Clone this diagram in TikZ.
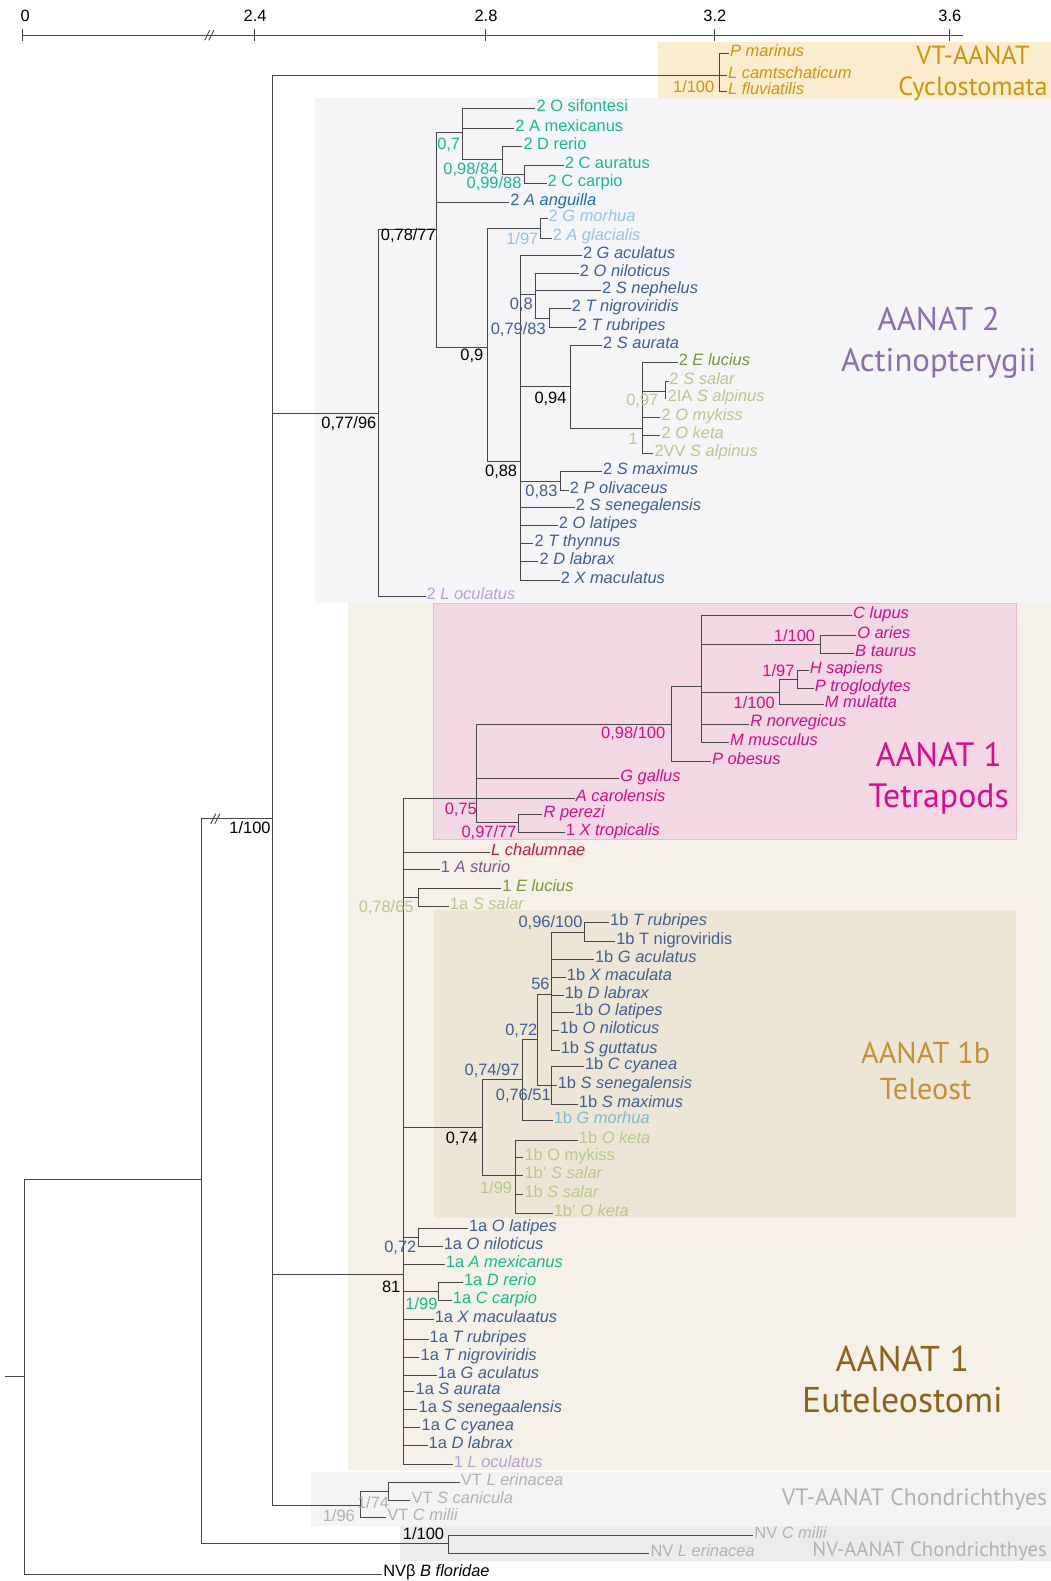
\documentclass[tikz,border=0pt]{standalone}
\usepackage{fontspec}
\setmainfont{Liberation Sans}
\newfontfamily\grpfamily{PT Sans}
\newcommand\taxfont{\fontsize{16.3}{18}\selectfont}

\tikzset{
  br/.style={draw=branch, line width=0.9pt},
  leaf/.style={anchor=west, inner sep=1pt, text height=6pt, text depth=0pt, font=\taxfont},
  supp/.style={inner sep=0pt, font=\taxfont},
  grp/.style={align=center, inner sep=0pt},
  ticklbl/.style={inner sep=0pt, font=\taxfont}
}

\begin{document}
\begin{tikzpicture}[x=1pt, y=-1pt]
    % Define colors
    \definecolor{branch}{RGB}{70,70,70}
    \definecolor{cycbg}{RGB}{250,236,205}
    \definecolor{actbg}{RGB}{245,245,248}
    \definecolor{eutbg}{RGB}{245,240,232}
    \definecolor{tetbg}{RGB}{242,216,226}
    \definecolor{tetline}{RGB}{236,185,212}
    \definecolor{telbg}{RGB}{237,230,214}
    \definecolor{vtbg}{RGB}{243,243,243}
    \definecolor{nvbg}{RGB}{236,236,236}
    \definecolor{cycgold}{RGB}{205,150,10}
    \definecolor{teal}{RGB}{20,190,140}
    \definecolor{eelblue}{RGB}{30,110,190}
    \definecolor{ltblue}{RGB}{150,195,225}
    \definecolor{slate}{RGB}{65,95,145}
    \definecolor{olive}{RGB}{120,150,55}
    \definecolor{ltolive}{RGB}{185,200,140}
    \definecolor{lilac}{RGB}{185,160,210}
    \definecolor{magenta}{RGB}{222,10,140}
    \definecolor{crimson}{RGB}{215,20,60}
    \definecolor{sturio}{RGB}{125,85,150}
    \definecolor{ltteal}{RGB}{130,185,205}
    \definecolor{chgray}{RGB}{178,178,178}
    \definecolor{actpurple}{RGB}{140,110,175}
    \definecolor{telgold}{RGB}{195,145,55}
    \definecolor{eutbrown}{RGB}{140,100,25}

    \useasboundingbox (0,0) rectangle (1042,1568);

    % Group panels
    \fill[cycbg] (653,42) rectangle (1042,97);
    \fill[actbg] (312,97) rectangle (1042,598);
    \fill[eutbg] (345,598) rectangle (1042,1458);
    \filldraw[fill=tetbg, draw=tetline] (430,598) rectangle (1008,832);
    \fill[telbg] (430,903) rectangle (1008,1208);
    \fill[vtbg] (308,1460) rectangle (1042,1513);
    \fill[nvbg] (397,1513) rectangle (1042,1548);

    % Group labels
    \node[grp, text=cycgold, font=\grpfamily\fontsize{26}{31}\selectfont] (gcyc) at (965,73) {VT-AANAT\\Cyclostomata};
    \node[grp, text=actpurple, font=\grpfamily\fontsize{32.5}{41}\selectfont] (gact) at (931,340) {AANAT 2\\Actinopterygii};
    \node[grp, text=magenta, font=\grpfamily\fontsize{33.5}{40}\selectfont] (gtet) at (931,772) {AANAT 1\\Tetrapods};
    \node[grp, text=telgold, font=\grpfamily\fontsize{30}{36}\selectfont] (gtel) at (918,1062) {AANAT 1b\\Teleost};
    \node[grp, text=eutbrown, font=\grpfamily\fontsize{35.5}{40}\selectfont] (geut) at (895,1368) {AANAT 1\\Euteleostomi};
    \node[grp, text=chgray, font=\grpfamily\fontsize{23.5}{26}\selectfont] (gvt) at (907,1487) {VT-AANAT Chondrichthyes};
    \node[grp, text=chgray, font=\grpfamily\fontsize{20.5}{24}\selectfont] (gnv) at (922,1538) {NV-AANAT Chondrichthyes};

    % Scale axis
    \draw[branch, line width=0.9pt] (22,35) -- (955,35);
    \draw[branch, line width=0.9pt] (22,29) -- (22,41) (252,29) -- (252,41) (481,29) -- (481,41) (709,29) -- (709,41) (942,29) -- (942,41);
    \draw[branch, line width=0.9pt] (203,40) -- (208,30) (207,40) -- (212,30);
    \node[ticklbl] (t0) at (25,16) {0};
    \node[ticklbl] (t24) at (253,16) {2.4};
    \node[ticklbl] (t28) at (482,16) {2.8};
    \node[ticklbl] (t32) at (709,16) {3.2};
    \node[ticklbl] (t36) at (942,16) {3.6};

    % Internal nodes
    \coordinate (stub) at (5,1365);
    \coordinate (nroot) at (24,1365);
    \coordinate (n1100r) at (200,1170);
    \coordinate (nmain) at (270,812);
    \coordinate (ncyc) at (714,75);
    \coordinate (n7796) at (375,410);
    \coordinate (n7877) at (433,228);
    \coordinate (n07) at (459,131);
    \coordinate (n9884) at (498,158);
    \coordinate (n9988) at (520,173);
    \coordinate (n09) at (483,345);
    \coordinate (n197) at (536,227);
    \coordinate (n088) at (516,458);
    \coordinate (n08) at (531,292);
    \coordinate (n7983) at (545,316);
    \coordinate (n094) at (566,383);
    \coordinate (n1) at (637,425);
    \coordinate (n097) at (660,388);
    \coordinate (n083) at (556,477);
    \coordinate (n81) at (400,1264);
    \coordinate (n075) at (473,792);
    \coordinate (n98100) at (666,718);
    \coordinate (n696) at (696,681);
    \coordinate (n1100a) at (814,639);
    \coordinate (n1100b) at (773,687);
    \coordinate (n197b) at (791,674);
    \coordinate (n9777) at (514,816);
    \coordinate (n7865) at (415,890);
    \coordinate (n074) at (478,1118);
    \coordinate (n7497) at (518,1071);
    \coordinate (n072b) at (533,1031);
    \coordinate (n56) at (547,986);
    \coordinate (n96100) at (580,925);
    \coordinate (n7651) at (547,1077);
    \coordinate (n199) at (511,1166);
    \coordinate (n072a) at (415,1227);
    \coordinate (n199a) at (435,1281);
    \coordinate (n196) at (357,1493);
    \coordinate (n174) at (385,1479);
    \coordinate (n1100nv) at (445,1531);

    % Leaves: Cyclostomata
    \node[leaf, text=cycgold] (marinus) at (723,53) {\textit{P marinus}};
    \node[leaf, text=cycgold] (camtschaticum) at (721,75) {\textit{L camtschaticum}};
    \node[leaf, text=cycgold] (fluviatilis) at (721,91) {\textit{L fluviatilis}};

    % Leaves: AANAT 2
    \node[leaf, text=teal] (sifontesi) at (531,108) {2 O sifontesi};
    \node[leaf, text=teal] (mexicanusB) at (510,127) {2 A mexicanus};
    \node[leaf, text=teal] (rerioB) at (518,145) {2 D rerio};
    \node[leaf, text=teal] (auratus) at (559,164) {2 C auratus};
    \node[leaf, text=teal] (carpioB) at (542,182) {2 C carpio};
    \node[leaf, text=eelblue] (anguilla) at (505,201) {2 \textit{A anguilla}};
    \node[leaf, text=ltblue] (morhuaB) at (543,217) {2 \textit{G morhua}};
    \node[leaf, text=ltblue] (glacialis) at (547,236) {2 \textit{A glacialis}};
    \node[leaf, text=slate] (aculatusB) at (577,253) {2 \textit{G aculatus}};
    \node[leaf, text=slate] (niloticusB) at (574,271) {2 \textit{O niloticus}};
    \node[leaf, text=slate] (nephelus) at (596,288) {2 \textit{S nephelus}};
    \node[leaf, text=slate] (nigroviridisB) at (566,306) {2 \textit{T nigroviridis}};
    \node[leaf, text=slate] (rubripesB) at (572,325) {2 \textit{T rubripes}};
    \node[leaf, text=slate] (aurataB) at (597,343) {2 \textit{S aurata}};
    \node[leaf, text=olive] (luciusB) at (672,359) {2 \textit{E lucius}};
    \node[leaf, text=ltolive] (salarB) at (663,378) {2 \textit{S salar}};
    \node[leaf, text=ltolive] (alpinusIA) at (661,395) {2IA \textit{S alpinus}};
    \node[leaf, text=ltolive] (mykissB) at (655,414) {2 \textit{O mykiss}};
    \node[leaf, text=ltolive] (ketaB) at (655,432) {2 \textit{O keta}};
    \node[leaf, text=ltolive] (alpinusVV) at (648,450) {2VV \textit{S alpinus}};
    \node[leaf, text=slate] (maximusB) at (597,468) {2 \textit{S maximus}};
    \node[leaf, text=slate] (olivaceus) at (564,486) {2 \textit{P olivaceus}};
    \node[leaf, text=slate] (senegalensisB) at (570,503) {2 \textit{S senegalensis}};
    \node[leaf, text=slate] (latipesB) at (553,521) {2 \textit{O latipes}};
    \node[leaf, text=slate] (thynnus) at (529,539) {2 \textit{T thynnus}};
    \node[leaf, text=slate] (labraxB) at (534,557) {2 \textit{D labrax}};
    \node[leaf, text=slate] (maculatusB) at (555,576) {2 \textit{X maculatus}};
    \node[leaf, text=lilac] (oculatusB) at (422,592) {2 \textit{L oculatus}};

    % Leaves: Tetrapods
    \node[leaf, text=magenta] (lupus) at (845,610) {\textit{C lupus}};
    \node[leaf, text=magenta] (aries) at (849,630) {\textit{O aries}};
    \node[leaf, text=magenta] (taurus) at (847,648) {\textit{B taurus}};
    \node[leaf, text=magenta] (sapiens) at (802,665) {\textit{H sapiens}};
    \node[leaf, text=magenta] (troglodytes) at (807,683) {\textit{P troglodytes}};
    \node[leaf, text=magenta] (mulatta) at (817,699) {\textit{M mulatta}};
    \node[leaf, text=magenta] (norvegicus) at (743,718) {\textit{R norvegicus}};
    \node[leaf, text=magenta] (musculus) at (723,736) {\textit{M musculus}};
    \node[leaf, text=magenta] (obesus) at (705,755) {\textit{P obesus}};
    \node[leaf, text=magenta] (gallus) at (614,772) {\textit{G gallus}};
    \node[leaf, text=magenta] (carolensis) at (570,792) {\textit{A carolensis}};
    \node[leaf, text=magenta] (perezi) at (538,808) {\textit{R perezi}};
    \node[leaf, text=magenta] (tropicalis) at (560,826) {1 \textit{X tropicalis}};

    % Leaves: AANAT 1 basal
    \node[leaf, text=crimson] (chalumnae) at (486,845) {\textit{L chalumnae}};
    \node[leaf, text=sturio] (sturioA) at (436,862) {1 \textit{A sturio}};
    \node[leaf, text=olive] (luciusA) at (497,881) {1 \textit{E lucius}};
    \node[leaf, text=ltolive] (salarA) at (445,899) {1a \textit{S salar}};

    % Leaves: AANAT 1b
    \node[leaf, text=slate] (rubripesT) at (604,915) {1b \textit{T rubripes}};
    \node[leaf, text=slate] (nigroviridisT) at (610,934) {1b T nigroviridis};
    \node[leaf, text=slate] (aculatusT) at (589,952) {1b \textit{G aculatus}};
    \node[leaf, text=slate] (maculataT) at (561,969) {1b \textit{X maculata}};
    \node[leaf, text=slate] (labraxT) at (559,987) {1b \textit{D labrax}};
    \node[leaf, text=slate] (latipesT) at (569,1004) {1b \textit{O latipes}};
    \node[leaf, text=slate] (niloticusT) at (554,1022) {1b \textit{O niloticus}};
    \node[leaf, text=slate] (guttatusT) at (555,1042) {1b \textit{S guttatus}};
    \node[leaf, text=slate] (cyaneaT) at (579,1058) {1b \textit{C cyanea}};
    \node[leaf, text=slate] (senegalensisT) at (552,1077) {1b \textit{S senegalensis}};
    \node[leaf, text=slate] (maximusT) at (573,1095) {1b \textit{S maximus}};
    \node[leaf, text=ltteal] (morhuaT) at (548,1111) {1b \textit{G morhua}};
    \node[leaf, text=ltolive] (ketaT) at (573,1131) {1b \textit{O keta}};
    \node[leaf, text=ltolive] (mykissT) at (519,1148) {1b O mykiss};
    \node[leaf, text=ltolive] (salarTp) at (519,1166) {1b' \textit{S salar}};
    \node[leaf, text=ltolive] (salarT) at (519,1185) {1b \textit{S salar}};
    \node[leaf, text=ltolive] (ketaTp) at (548,1203) {1b' \textit{O keta}};

    % Leaves: AANAT 1a
    \node[leaf, text=slate] (latipesA) at (464,1218) {1a \textit{O latipes}};
    \node[leaf, text=slate] (niloticusA) at (439,1236) {1a \textit{O niloticus}};
    \node[leaf, text=teal] (mexicanusA) at (441,1254) {1a \textit{A mexicanus}};
    \node[leaf, text=teal] (rerioA) at (459,1272) {1a \textit{D rerio}};
    \node[leaf, text=teal] (carpioA) at (448,1290) {1a \textit{C carpio}};
    \node[leaf, text=slate] (maculaatusA) at (430,1309) {1a \textit{X maculaatus}};
    \node[leaf, text=slate] (rubripesA) at (425,1328) {1a \textit{T rubripes}};
    \node[leaf, text=slate] (nigroviridisA) at (416,1346) {1a \textit{T nigroviridis}};
    \node[leaf, text=slate] (aculatusA) at (433,1364) {1a \textit{G aculatus}};
    \node[leaf, text=slate] (aurataA) at (411,1380) {1a \textit{S aurata}};
    \node[leaf, text=slate] (senegaalensisA) at (414,1398) {1a \textit{S senegaalensis}};
    \node[leaf, text=slate] (cyaneaA) at (417,1416) {1a \textit{C cyanea}};
    \node[leaf, text=slate] (labraxA) at (424,1434) {1a \textit{D labrax}};
    \node[leaf, text=lilac] (oculatusA) at (449,1452) {1 \textit{L oculatus}};

    % Leaves: Chondrichthyes and outgroup
    \node[leaf, text=chgray] (erinaceaVT) at (456,1470) {VT \textit{L erinacea}};
    \node[leaf, text=chgray] (caniculaVT) at (407,1488) {VT \textit{S canicula}};
    \node[leaf, text=chgray] (miliiVT) at (383,1505) {VT \textit{C milii}};
    \node[leaf, text=chgray] (miliiNV) at (747,1523) {NV \textit{C milii}};
    \node[leaf, text=chgray] (erinaceaNV) at (644,1541) {NV \textit{L erinacea}};
    \node[leaf] (floridae) at (379,1561) {NVβ \textit{B floridae}};

    % Draw branches
    \draw[br] (stub) -- (nroot);
    \draw[br] (nroot) |- (n1100r);
    \draw[br] (nroot) |- (floridae);
    \draw[br] (n1100r) |- (nmain);
    \draw[br] (n1100r) |- (n1100nv);
    \draw[br] (nmain) |- (ncyc);
    \draw[br] (nmain) |- (n7796);
    \draw[br] (nmain) |- (n81);
    \draw[br] (nmain) |- (n196);
    \draw[br] (ncyc) |- (marinus);
    \draw[br] (ncyc) |- (camtschaticum);
    \draw[br] (ncyc) |- (fluviatilis);

    \draw[br] (n7796) |- (n7877);
    \draw[br] (n7796) |- (oculatusB);
    \draw[br] (n7877) |- (n07);
    \draw[br] (n7877) |- (anguilla);
    \draw[br] (n7877) |- (n09);
    \draw[br] (n07) |- (sifontesi);
    \draw[br] (n07) |- (mexicanusB);
    \draw[br] (n07) |- (n9884);
    \draw[br] (n9884) |- (rerioB);
    \draw[br] (n9884) |- (n9988);
    \draw[br] (n9988) |- (auratus);
    \draw[br] (n9988) |- (carpioB);
    \draw[br] (n09) |- (n197);
    \draw[br] (n09) |- (n088);
    \draw[br] (n197) |- (morhuaB);
    \draw[br] (n197) |- (glacialis);
    \draw[br] (n088) |- (aculatusB);
    \draw[br] (n088) |- (n08);
    \draw[br] (n088) |- (n094);
    \draw[br] (n088) |- (n083);
    \draw[br] (n088) |- (senegalensisB);
    \draw[br] (n088) |- (latipesB);
    \draw[br] (n088) |- (thynnus);
    \draw[br] (n088) |- (labraxB);
    \draw[br] (n088) |- (maculatusB);
    \draw[br] (n08) |- (niloticusB);
    \draw[br] (n08) |- (nephelus);
    \draw[br] (n08) |- (n7983);
    \draw[br] (n7983) |- (nigroviridisB);
    \draw[br] (n7983) |- (rubripesB);
    \draw[br] (n094) |- (aurataB);
    \draw[br] (n094) |- (n1);
    \draw[br] (n1) |- (luciusB);
    \draw[br] (n1) |- (n097);
    \draw[br] (n1) |- (mykissB);
    \draw[br] (n1) |- (ketaB);
    \draw[br] (n1) |- (alpinusVV);
    \draw[br] (n097) |- (salarB);
    \draw[br] (n097) |- (alpinusIA);
    \draw[br] (n083) |- (maximusB);
    \draw[br] (n083) |- (olivaceus);

    \draw[br] (n81) |- (n075);
    \draw[br] (n81) |- (chalumnae);
    \draw[br] (n81) |- (sturioA);
    \draw[br] (n81) |- (n7865);
    \draw[br] (n81) |- (n074);
    \draw[br] (n81) |- (n072a);
    \draw[br] (n81) |- (mexicanusA);
    \draw[br] (n81) |- (n199a);
    \draw[br] (n81) |- (maculaatusA);
    \draw[br] (n81) |- (rubripesA);
    \draw[br] (n81) |- (nigroviridisA);
    \draw[br] (n81) |- (aculatusA);
    \draw[br] (n81) |- (aurataA);
    \draw[br] (n81) |- (senegaalensisA);
    \draw[br] (n81) |- (cyaneaA);
    \draw[br] (n81) |- (labraxA);
    \draw[br] (n81) |- (oculatusA);
    \draw[br] (n075) |- (n98100);
    \draw[br] (n075) |- (gallus);
    \draw[br] (n075) |- (carolensis);
    \draw[br] (n075) |- (n9777);
    \draw[br] (n98100) |- (n696);
    \draw[br] (n98100) |- (obesus);
    \draw[br] (n696) |- (lupus);
    \draw[br] (n696) |- (n1100a);
    \draw[br] (n696) |- (n1100b);
    \draw[br] (n696) |- (norvegicus);
    \draw[br] (n696) |- (musculus);
    \draw[br] (n1100a) |- (aries);
    \draw[br] (n1100a) |- (taurus);
    \draw[br] (n1100b) |- (n197b);
    \draw[br] (n1100b) |- (mulatta);
    \draw[br] (n197b) |- (sapiens);
    \draw[br] (n197b) |- (troglodytes);
    \draw[br] (n9777) |- (perezi);
    \draw[br] (n9777) |- (tropicalis);
    \draw[br] (n7865) |- (luciusA);
    \draw[br] (n7865) |- (salarA);
    \draw[br] (n074) |- (n7497);
    \draw[br] (n074) |- (n199);
    \draw[br] (n7497) |- (n072b);
    \draw[br] (n7497) |- (morhuaT);
    \draw[br] (n072b) |- (n56);
    \draw[br] (n072b) |- (n7651);
    \draw[br] (n56) |- (n96100);
    \draw[br] (n56) |- (aculatusT);
    \draw[br] (n56) |- (maculataT);
    \draw[br] (n56) |- (labraxT);
    \draw[br] (n56) |- (latipesT);
    \draw[br] (n56) |- (niloticusT);
    \draw[br] (n56) |- (guttatusT);
    \draw[br] (n96100) |- (rubripesT);
    \draw[br] (n96100) |- (nigroviridisT);
    \draw[br] (n7651) |- (cyaneaT);
    \draw[br] (n7651) |- (senegalensisT);
    \draw[br] (n7651) |- (maximusT);
    \draw[br] (n199) |- (ketaT);
    \draw[br] (n199) |- (mykissT);
    \draw[br] (n199) |- (salarTp);
    \draw[br] (n199) |- (salarT);
    \draw[br] (n199) |- (ketaTp);
    \draw[br] (n072a) |- (latipesA);
    \draw[br] (n072a) |- (niloticusA);
    \draw[br] (n199a) |- (rerioA);
    \draw[br] (n199a) |- (carpioA);

    \draw[br] (n196) |- (n174);
    \draw[br] (n196) |- (miliiVT);
    \draw[br] (n174) |- (erinaceaVT);
    \draw[br] (n174) |- (caniculaVT);
    \draw[br] (n1100nv) |- (miliiNV);
    \draw[br] (n1100nv) |- (erinaceaNV);

    % Break mark on the long branch
    \draw[br] (209,817) -- (214,807) (213,817) -- (218,807);

    % Support values
    \node[supp, text=cycgold] (s1100c) at (688,86) {1/100};
    \node[supp] (s7796) at (346,420) {0,77/96};
    \node[supp] (s7877) at (405,234) {0,78/77};
    \node[supp, text=teal] (s07) at (445,144) {0,7};
    \node[supp, text=teal] (s9884) at (467,168) {0,98/84};
    \node[supp, text=teal] (s9988) at (490,182) {0,99/88};
    \node[supp, text=ltblue] (s197) at (518,237) {1/97};
    \node[supp, text=slate] (s08) at (517,302) {0,8};
    \node[supp, text=slate] (s7983) at (514,327) {0,79/83};
    \node[supp] (s09) at (468,353) {0,9};
    \node[supp] (s094) at (546,396) {0,94};
    \node[supp, text=ltolive] (s097) at (637,398) {0,97};
    \node[supp, text=ltolive] (s1) at (628,435) {1};
    \node[supp] (s088) at (497,468) {0,88};
    \node[supp, text=slate] (s083) at (537,488) {0,83};

    \node[supp, text=magenta] (s1100a) at (788,630) {1/100};
    \node[supp, text=magenta] (s197b) at (772,665) {1/97};
    \node[supp, text=magenta] (s1100b) at (748,697) {1/100};
    \node[supp, text=magenta] (s98100) at (628,728) {0,98/100};
    \node[supp, text=magenta] (s075) at (457,803) {0,75};
    \node[supp, text=magenta] (s9777) at (485,826) {0,97/77};
    \node[supp, text=ltolive] (s7865) at (383,900) {0,78/65};

    \node[supp, text=slate] (s96100) at (546,915) {0,96/100};
    \node[supp, text=slate] (s56) at (536,976) {56};
    \node[supp, text=slate] (s072b) at (517,1022) {0,72};
    \node[supp, text=slate] (s7497) at (488,1062) {0,74/97};
    \node[supp, text=slate] (s7651) at (519,1087) {0,76/51};
    \node[supp] (s074) at (458,1129) {0,74};
    \node[supp, text=ltolive] (s199) at (492,1178) {1/99};
    \node[supp, text=slate] (s072a) at (397,1238) {0,72};
    \node[supp] (s81) at (388,1276) {81};
    \node[supp, text=teal] (s199a) at (418,1293) {1/99};

    \node[supp, text=chgray] (s174) at (370,1490) {1/74};
    \node[supp, text=chgray] (s196) at (336,1503) {1/96};
    \node[supp] (s1100nv) at (420,1521) {1/100};
    \node[supp] (s1100r) at (248,821) {1/100};
\end{tikzpicture}
\end{document}
